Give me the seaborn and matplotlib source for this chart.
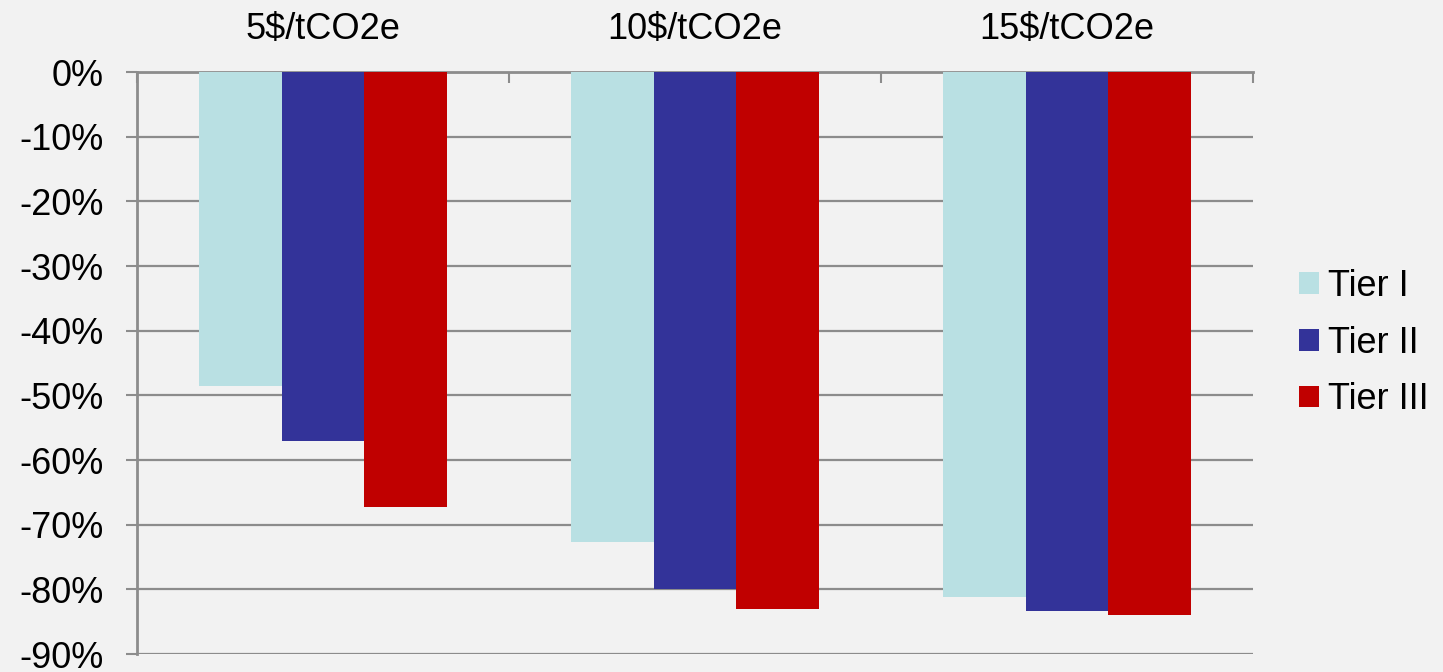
import matplotlib
matplotlib.use("Agg")
import matplotlib.pyplot as plt
from matplotlib.ticker import FixedLocator, FuncFormatter
import seaborn as sns
import pandas as pd

# Emission reduction by carbon price and tier (percent change)
prices = ["5$/tCO2e", "10$/tCO2e", "15$/tCO2e"]
tiers = ["Tier I", "Tier II", "Tier III"]
tier_1 = [-48.6, -72.7, -81.2]
tier_2 = [-57.0, -80.0, -83.4]
tier_3 = [-67.2, -83.0, -84.0]
y_ticks = [0, -10, -20, -30, -40, -50, -60, -70, -80, -90]

colors = ["#b9e0e3", "#333399", "#c00000"]

rows = []
for tier, vals in zip(tiers, [tier_1, tier_2, tier_3]):
    for p, v in zip(prices, vals):
        rows.append({"price": p, "tier": tier, "value": v})
df = pd.DataFrame(rows)

sns.set_theme(style="white")
plt.rcParams["font.family"] = ["Liberation Sans", "DejaVu Sans"]

bg = "#f2f2f2"
grid_c = "#8c8c8c"
fs = 26
fig = plt.figure(figsize=(14.43, 6.72), dpi=100, facecolor=bg)
ax = fig.add_axes([137 / 1443, 18 / 672, (1253 - 137) / 1443, (654 - 72) / 672])
ax.set_facecolor(bg)

sns.barplot(data=df, x="price", y="value", hue="tier", order=prices,
            hue_order=tiers, palette=colors, width=2 / 3, saturation=1,
            edgecolor="none", linewidth=0, ax=ax, zorder=3)

ax.set_ylim(-90, 0)
ax.set_xlim(-0.5, 2.5)
ax.yaxis.set_major_locator(FixedLocator(y_ticks))
ax.yaxis.set_major_formatter(FuncFormatter(lambda v, _: f"{int(round(v))}%"))
ax.yaxis.grid(True, color=grid_c, linewidth=1.6, zorder=0)
ax.set_axisbelow(True)

# Category labels above the plot, boundary ticks hanging from the top edge
ax.xaxis.tick_top()
ax.set_xticks(range(len(prices)))
ax.set_xticklabels(prices)
ax.set_xticks([-0.5, 0.5, 1.5, 2.5], minor=True)
ax.tick_params(axis="x", which="major", length=0, pad=18, labelsize=fs,
               labelcolor="black")
ax.tick_params(axis="x", which="minor", top=True, direction="in", length=8,
               width=1.5, color=grid_c)
ax.tick_params(axis="y", which="major", left=True, length=8, width=1.5, color=grid_c,
               labelsize=fs, pad=16, labelcolor="black")

ax.set_xlabel("")
ax.set_ylabel("")

for side in ["right", "bottom"]:
    ax.spines[side].set_visible(False)
ax.spines["left"].set_color(grid_c)
ax.spines["left"].set_linewidth(2)
ax.spines["top"].set_color(grid_c)
ax.spines["top"].set_linewidth(2)

leg = ax.legend(loc="center left", bbox_to_anchor=(1.0125, 0.534), frameon=False,
                fontsize=fs, handlelength=0.55, handleheight=0.55, handletextpad=0.25,
                labelspacing=0.6)
for t in leg.get_texts():
    t.set_color("black")

fig.savefig("out.png", dpi=100, facecolor=bg)
